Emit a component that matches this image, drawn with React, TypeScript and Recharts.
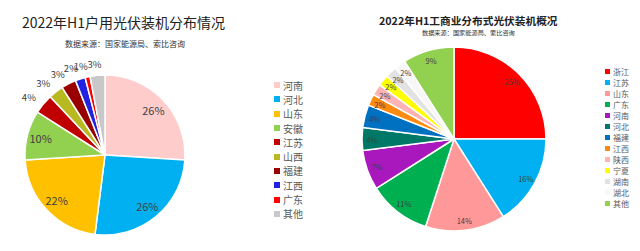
import React from "react";
import { PieChart, Pie, Cell } from "recharts";

const homeNames = ["河南", "河北", "山东", "安徽", "江苏", "山西", "福建", "江西", "广东", "其他"];
const homeValues = [26, 26, 22, 10, 4, 3, 3, 2, 1, 3];
const homeColors = ["#FFCCCC", "#00B0F0", "#FFC000", "#92D050", "#C00000", "#B8B820", "#990000", "#2222E0", "#FF0000", "#C8C8C8"];

const ciNames = ["浙江", "江苏", "山东", "广东", "河南", "河北", "福建", "江西", "陕西", "宁夏", "湖南", "湖北", "其他"];
const ciValues = [25, 16, 14, 11, 7, 4, 4, 2, 2, 2, 2, 2, 9];
const ciColors = ["#FF0000", "#00B0F0", "#FF9999", "#00B050", "#A818BC", "#007868", "#0070C0", "#FF8A10", "#FFB3B3", "#FFFF00", "#E2E2E2", "#F7F7F7", "#92D050"];

const homeData = homeNames.map((name, i) => ({ name, value: homeValues[i] }));
const ciData = ciNames.map((name, i) => ({ name, value: ciValues[i] }));

const FONT = '"Noto Sans CJK SC", "Noto Sans", sans-serif';
const RAD = Math.PI / 180;

function homeLabel(p: any) {
  const { cx, cy, midAngle, outerRadius, percent } = p;
  const inside = percent >= 0.05;
  const r = inside ? outerRadius * 0.83 : outerRadius + 11;
  const cos = Math.cos(-midAngle * RAD);
  // outside labels lean away from the pie a little, like Excel's outside-end labels
  const shift = inside ? 0 : Math.max(-6, 20 * cos);
  const x = cx + r * cos + shift;
  const y = cy + r * Math.sin(-midAngle * RAD);
  return (
    <text x={x} y={y} fill="#404040" fontSize={inside ? 11 : 9.5} fontFamily={FONT} textAnchor="middle" dominantBaseline="central">
      {Math.round(percent * 100)}%
    </text>
  );
}

function ciLabel(p: any) {
  const { cx, cy, midAngle, outerRadius, percent } = p;
  const r = outerRadius * 0.89;
  const x = cx + r * Math.cos(-midAngle * RAD);
  const y = cy + r * Math.sin(-midAngle * RAD);
  return (
    <text x={x} y={y} fill="#404040" fontSize={7.5} fontFamily={FONT} textAnchor="middle" dominantBaseline="central">
      {Math.round(percent * 100)}%
    </text>
  );
}

function LegendList({ names, colors, left, top, gap, box, size }: any) {
  return (
    <div style={{ position: "absolute", left, top, fontFamily: FONT, fontSize: size, color: "#595959" }}>
      {names.map((n: string, i: number) => (
        <div key={n} style={{ display: "flex", alignItems: "center", height: gap }}>
          <span style={{ width: box, height: box, background: colors[i], marginRight: 3, display: "inline-block" }} />
          <span>{n}</span>
        </div>
      ))}
    </div>
  );
}

export default function App() {
  return (
    <div style={{ position: "absolute", left: 0, top: 0, width: 640, height: 251, background: "#fff", overflow: "hidden" }}>
      {/* left: household */}
      <div style={{ position: "absolute", left: 22, top: 12, fontFamily: FONT, fontSize: 14, color: "#222", whiteSpace: "nowrap" }}>
        2022年H1户用光伏装机分布情况
      </div>
      <div style={{ position: "absolute", left: 65, top: 38, fontFamily: FONT, fontSize: 8, color: "#333", whiteSpace: "nowrap" }}>
        数据来源：国家能源局、索比咨询
      </div>
      <div style={{ position: "absolute", left: 0, top: 0 }}>
        <PieChart width={320} height={251}>
          <Pie
            data={homeData}
            dataKey="value"
            cx={100}
            cy={150}
            outerRadius={80}
            startAngle={90}
            endAngle={-270}
            stroke="#fff"
            strokeWidth={1.5}
            label={homeLabel}
            labelLine={false}
            isAnimationActive={false}
          >
            {homeData.map((d, i) => <Cell key={d.name} fill={homeColors[i]} />)}
          </Pie>
        </PieChart>
      </div>
      <LegendList names={homeNames} colors={homeColors} left={274} top={78} gap={14.3} box={6} size={10} />

      {/* right: C&I */}
      <div style={{ position: "absolute", left: 379, top: 13, fontFamily: FONT, fontSize: 10.7, fontWeight: 700, color: "#222", whiteSpace: "nowrap" }}>
        2022年H1工商业分布式光伏装机概况
      </div>
      <div style={{ position: "absolute", left: 422, top: 28, fontFamily: FONT, fontSize: 6.2, color: "#333", whiteSpace: "nowrap" }}>
        数据来源：国家能源局、索比咨询
      </div>
      <div style={{ position: "absolute", left: 320, top: 0 }}>
        <PieChart width={320} height={251}>
          <Pie
            data={ciData}
            dataKey="value"
            cx={129}
            cy={134}
            outerRadius={92}
            startAngle={90}
            endAngle={-270}
            stroke="#fff"
            strokeWidth={1.5}
            label={ciLabel}
            labelLine={false}
            isAnimationActive={false}
          >
            {ciData.map((d, i) => <Cell key={d.name} fill={ciColors[i]} />)}
          </Pie>
        </PieChart>
      </div>
      <LegendList names={ciNames} colors={ciColors} left={605} top={65.5} gap={11} box={5} size={8} />
    </div>
  );
}
